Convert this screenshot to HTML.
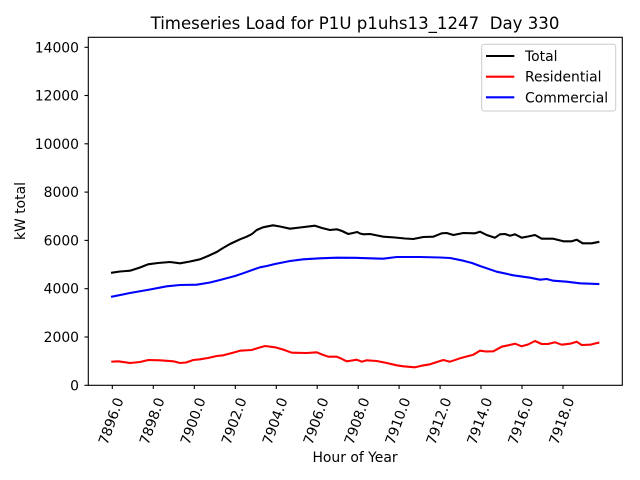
<!DOCTYPE html>
<html><head><meta charset="utf-8"><style>
html,body{margin:0;padding:0;background:#fff;}
svg{display:block;}
text{font-family:"DejaVu Sans","Liberation Sans",sans-serif;fill:#000;}
</style></head><body>
<svg width="640" height="480" viewBox="0 0 640 480" xmlns="http://www.w3.org/2000/svg">
<rect x="0" y="0" width="640" height="480" fill="#fff"/>
<text x="355" y="29" font-size="16.6" text-anchor="middle" xml:space="preserve">Timeseries Load for P1U p1uhs13_1247  Day 330</text>
<g fill="none" stroke-width="2.08" stroke-linejoin="round" stroke-linecap="square">
<polyline stroke="#000" points="112,272.7 120,271.5 130,270.7 140,267.5 148,264.3 158,263 170,262 180,263.3 190,261.5 200,259.3 208,256 216.7,252 223,248 230,244 240,239.3 246.7,236.7 252,234 256.7,230 263,227.3 273,225.3 280,226.5 290,228.7 300,227.5 315,225.7 322,228 330,230 336.7,229.3 342,231 348.3,234 353,233 357.3,232 360,233.5 363.3,234.3 370,234 383.3,236.7 395,237.5 405,238.5 413.3,239 423.3,237 433.3,236.7 441.7,233.3 446.7,233 453.3,235 463.3,233 475,233.3 480,231.7 486.7,235 495,237.7 500,234.3 505,234 510,235.7 515,234.3 521.7,237.7 528,236.5 535,235 541.7,238.7 553.3,238.7 563.3,241.3 571.7,241.3 576.7,239.7 582.7,243.3 591.7,243.3 598.3,242"/>
<polyline stroke="#f00" points="112.3,361.7 118.3,361.3 130,363 140,362 148.3,360 160,360.3 173.3,361.3 180,363 186,362.5 193.3,360 200,359.3 208,358 216.7,356 223.3,355.3 232,353 240,350.7 251.7,350 258,348 265,346 275,347.3 283,349.5 291.7,352.7 306.7,353 316.7,352.3 322,354.5 328.3,356.7 336.7,356.7 341,358.5 346.7,361.3 352,360.5 356.7,359.7 361.7,361.7 366.7,360.3 376.7,361 386.7,363 396.7,365.3 403.3,366.3 415,367.3 421.7,365.7 430,364.3 437,362 443.3,360 450,361.7 460,358.3 473.3,354.7 480,350.7 486,351.5 493.3,351.3 501.7,346.7 508.3,345.3 515,343.7 521.7,346.3 528,344.5 535,341 541.7,344 548,344 555,342.3 561.7,344.7 570,343.7 576.7,341.7 581.7,345 590,344.7 598.3,342.7"/>
<polyline stroke="#00f" points="112,296.7 130,293 150,289.5 166.7,286.3 180,285 196.7,284.7 210,282.5 220,280 235,276 243,273.3 255,269 260,267.3 266.7,266 275,264 280,263 290,261 303.3,259.3 320,258.3 336.7,257.7 355,257.8 370,258.3 383.3,258.7 396.7,257 420,257 440,257.5 450,258 463.3,260.7 472,263 480,266 496.7,271.7 513.3,275.3 530,277.7 540,279.7 546.7,279 553.3,280.7 566.7,281.7 580,283.3 598.3,284"/>
</g>
<rect x="88.3" y="37.3" width="534" height="348" fill="none" stroke="#000" stroke-width="1.1"/>
<g stroke="#000" stroke-width="1.1">
<line x1="84.5" y1="385.3" x2="88.3" y2="385.3"/>
<line x1="84.5" y1="337" x2="88.3" y2="337"/>
<line x1="84.5" y1="288.7" x2="88.3" y2="288.7"/>
<line x1="84.5" y1="240.4" x2="88.3" y2="240.4"/>
<line x1="84.5" y1="192.1" x2="88.3" y2="192.1"/>
<line x1="84.5" y1="143.8" x2="88.3" y2="143.8"/>
<line x1="84.5" y1="95.5" x2="88.3" y2="95.5"/>
<line x1="84.5" y1="47.3" x2="88.3" y2="47.3"/>
<line x1="112.3" y1="385.3" x2="112.3" y2="389"/>
<line x1="153.3" y1="385.3" x2="153.3" y2="389"/>
<line x1="194.3" y1="385.3" x2="194.3" y2="389"/>
<line x1="235.3" y1="385.3" x2="235.3" y2="389"/>
<line x1="276.3" y1="385.3" x2="276.3" y2="389"/>
<line x1="317.2" y1="385.3" x2="317.2" y2="389"/>
<line x1="358.2" y1="385.3" x2="358.2" y2="389"/>
<line x1="399.1" y1="385.3" x2="399.1" y2="389"/>
<line x1="440.1" y1="385.3" x2="440.1" y2="389"/>
<line x1="481" y1="385.3" x2="481" y2="389"/>
<line x1="522" y1="385.3" x2="522" y2="389"/>
<line x1="563" y1="385.3" x2="563" y2="389"/>
</g>
<g font-size="13.9" text-anchor="end">
<text x="79" y="390.3">0</text>
<text x="79" y="342">2000</text>
<text x="79" y="293.7">4000</text>
<text x="79" y="245.4">6000</text>
<text x="79" y="197.1">8000</text>
<text x="79" y="148.8">10000</text>
<text x="79" y="100.5">12000</text>
<text x="79" y="52.3">14000</text>
</g>
<g font-size="13.9" text-anchor="middle">
<text transform="translate(110.8,421) rotate(-70)" dy="5">7896.0</text>
<text transform="translate(151.8,421) rotate(-70)" dy="5">7898.0</text>
<text transform="translate(192.8,421) rotate(-70)" dy="5">7900.0</text>
<text transform="translate(233.8,421) rotate(-70)" dy="5">7902.0</text>
<text transform="translate(274.8,421) rotate(-70)" dy="5">7904.0</text>
<text transform="translate(315.7,421) rotate(-70)" dy="5">7906.0</text>
<text transform="translate(356.7,421) rotate(-70)" dy="5">7908.0</text>
<text transform="translate(397.6,421) rotate(-70)" dy="5">7910.0</text>
<text transform="translate(438.6,421) rotate(-70)" dy="5">7912.0</text>
<text transform="translate(479.5,421) rotate(-70)" dy="5">7914.0</text>
<text transform="translate(520.5,421) rotate(-70)" dy="5">7916.0</text>
<text transform="translate(561.5,421) rotate(-70)" dy="5">7918.0</text>
</g>
<text x="355" y="462" font-size="13.9" text-anchor="middle">Hour of Year</text>
<text transform="translate(25,211) rotate(-90)" font-size="13.9" text-anchor="middle">kW total</text>
<rect x="481.7" y="44.3" width="134" height="66.7" rx="2.5" fill="#fff" fill-opacity="0.8" stroke="#cccccc" stroke-width="1"/>
<g stroke-width="2.08">
<line x1="486" y1="56" x2="514.3" y2="56" stroke="#000"/>
<line x1="486" y1="76.7" x2="514.3" y2="76.7" stroke="#f00"/>
<line x1="486" y1="97.3" x2="514.3" y2="97.3" stroke="#00f"/>
</g>
<g font-size="13.9">
<text x="525" y="61">Total</text>
<text x="525" y="81.7">Residential</text>
<text x="525" y="102.3">Commercial</text>
</g>
</svg>
</body></html>
